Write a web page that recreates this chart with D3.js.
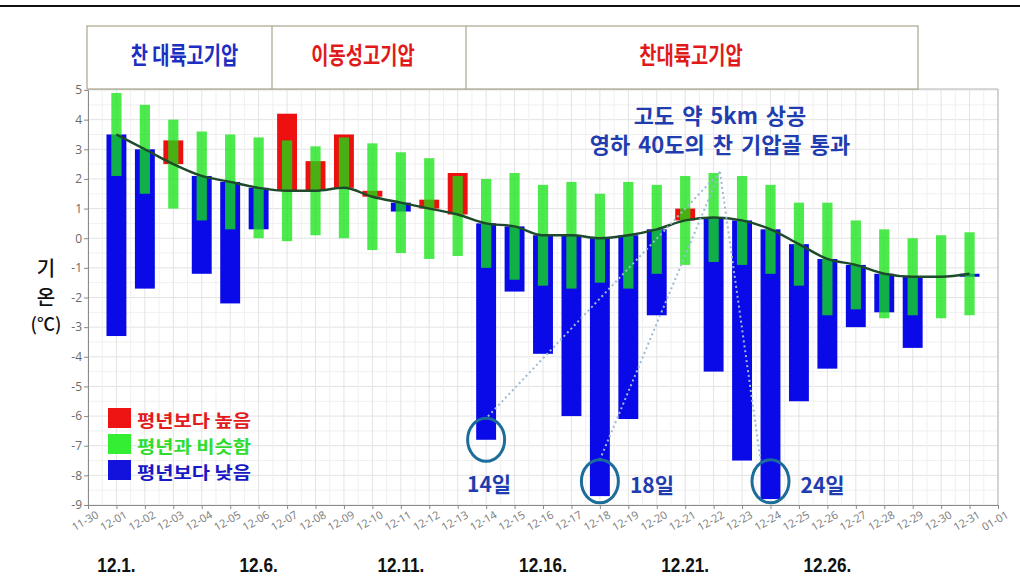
<!DOCTYPE html>
<html>
<head>
<meta charset="utf-8">
<script src="https://cdn.jsdelivr.net/npm/d3@7"></script>
<style>
  body { margin: 0; background: #fff; }
  svg { display: block; }
</style>
</head>
<body>
<svg id="chart" width="1020" height="586"></svg>
<script>
// December daily mean temperature vs. climatological normal
const dates = ["12-01","12-02","12-03","12-04","12-05","12-06","12-07","12-08","12-09","12-10",
               "12-11","12-12","12-13","12-14","12-15","12-16","12-17","12-18","12-19","12-20",
               "12-21","12-22","12-23","12-24","12-25","12-26","12-27","12-28","12-29","12-30","12-31"];
// climatological mean (smooth dark line)
const meanTemp = [3.5, 3.0, 2.5, 2.1, 1.9, 1.7, 1.6, 1.6, 1.7, 1.4,
                  1.2, 1.0, 0.8, 0.5, 0.4, 0.1, 0.1, 0.0, 0.1, 0.3,
                  0.6, 0.7, 0.6, 0.3, -0.2, -0.7, -0.9, -1.2, -1.3, -1.3, -1.2];
// observed daily mean
const obsTemp = [-3.3, -1.7, 3.3, -1.2, -2.2, 0.3, 4.2, 2.6, 3.5, 1.6,
                 0.9, 1.3, 2.2, -6.8, -1.8, -3.9, -6.0, -8.7, -6.1, -2.6,
                 1.0, -4.5, -7.5, -8.8, -5.5, -4.4, -3.0, -2.5, -3.7, -1.3, -1.3];
// normal range (upper / lower bound)
const normalHigh = [4.9, 4.5, 4.0, 3.6, 3.5, 3.4, 3.3, 3.1, 3.4, 3.2,
                    2.9, 2.7, 2.1, 2.0, 2.2, 1.8, 1.9, 1.5, 1.9, 1.8,
                    2.1, 2.2, 2.1, 1.8, 1.2, 1.2, 0.6, 0.3, 0.0, 0.1, 0.2];
const normalLow = [2.1, 1.5, 1.0, 0.6, 0.3, 0.0, -0.1, 0.1, 0.0, -0.4,
                   -0.5, -0.7, -0.6, -1.0, -1.4, -1.6, -1.7, -1.5, -1.7, -1.2,
                   -0.9, -0.8, -0.9, -1.2, -1.6, -2.6, -2.4, -2.7, -2.6, -2.7, -2.6];
const yTicks = d3.range(-9, 6);
const periodNames = ["찬 대륙고기압", "이동성고기압", "찬대륙고기압"];
const legendNames = ["평년보다 높음", "평년과 비슷함", "평년보다 낮음"];
const dateMarks = ["12-01", "12-06", "12-11", "12-16", "12-21", "12-26"];
const dateMarkLabels = ["12.1.", "12.6.", "12.11.", "12.16.", "12.21.", "12.26."];
const coldDays = ["12-14", "12-18", "12-24"];
const coldDayCircleTemp = [-6.8, -8.2, -8.2];
const coldDayLabels = ["14일", "18일", "24일"];
const noteLines = ["고도 약 5km 상공", "영하 40도의 찬 기압골 통과"];

const toDate = s => {
  const [m, d] = s.split("-").map(Number);
  return m === 12 || m === 11 ? new Date(Date.UTC(2000, m - 1, d)) : new Date(Date.UTC(2001, m - 1, d));
};

const svg = d3.select("#chart");
const W = 1020, H = 586;
const plot = { left: 88, right: 998, top: 90, bottom: 505 };

const x = d3.scaleUtc()
  .domain([toDate("11-30"), toDate("01-01")])
  .range([plot.left, plot.right]);
const y = d3.scaleLinear().domain([-9, 5]).range([plot.bottom, plot.top]);

const KR = "'Noto Sans CJK KR', 'Noto Sans', sans-serif";
const NUM = "'Open Sans', 'Noto Sans', sans-serif";

// top rule
svg.append("line").attr("x1", 0).attr("x2", W).attr("y1", 6).attr("y2", 6)
  .attr("stroke", "#111").attr("stroke-width", 2);

// plot background and grid
const g = svg.append("g");
g.append("rect").attr("x", plot.left).attr("y", plot.top - 1)
  .attr("width", plot.right - plot.left).attr("height", plot.bottom - plot.top + 1)
  .attr("fill", "#fff");

const halfSteps = d3.range(-9, 5.01, 0.5);
g.selectAll("line.hgrid").data(halfSteps).join("line")
  .attr("x1", plot.left).attr("x2", plot.right)
  .attr("y1", d => y(d)).attr("y2", d => y(d))
  .attr("stroke", d => Number.isInteger(d) ? "#e3e3e3" : "#f0f0f0");

const dayTicks = d3.utcDay.range(toDate("11-30"), d3.utcDay.offset(toDate("01-01"), 1));
const halfDays = [];
dayTicks.forEach(d => { halfDays.push(+d); halfDays.push(+d + 12 * 3600e3); });
g.selectAll("line.vgrid").data(halfDays.filter(t => t <= +toDate("01-01"))).join("line")
  .attr("x1", d => x(d)).attr("x2", d => x(d))
  .attr("y1", plot.top).attr("y2", plot.bottom)
  .attr("stroke", (d, i) => i % 2 === 0 ? "#e3e3e3" : "#f0f0f0");

// plot frame (top and right)
g.append("path")
  .attr("d", `M${plot.left},${plot.top - 1}H${plot.right}V${plot.bottom}`)
  .attr("fill", "none").attr("stroke", "#b5b5b5");

// header table of pressure systems
const header = svg.append("g");
const hx = [87, 272, 466, 918], hTop = 26, hBot = 89;
header.append("rect").attr("x", hx[0]).attr("y", hTop)
  .attr("width", hx[3] - hx[0]).attr("height", hBot - hTop)
  .attr("fill", "#fff").attr("stroke", "#a9a58c").attr("stroke-width", 1.2);
[hx[1], hx[2]].forEach(v => header.append("line")
  .attr("x1", v).attr("x2", v).attr("y1", hTop).attr("y2", hBot)
  .attr("stroke", "#a9a58c").attr("stroke-width", 1.2));
const headerColors = ["#1b2fc2", "#e01a1a", "#e01a1a"];
periodNames.forEach((t, i) => {
  const cx = (hx[i] + hx[i + 1]) / 2 + (i === 0 ? 5 : (i === 1 ? -6 : -1));
  header.append("text")
    .attr("transform", `translate(${cx},64) scale(0.78,1)`)
    .attr("text-anchor", "middle")
    .attr("font-family", KR).attr("font-weight", 700).attr("font-size", 24)
    .attr("fill", headerColors[i]).text(t);
});

// data rows
const rows = dates.map((d, i) => ({
  date: toDate(d), mean: meanTemp[i], obs: obsTemp[i],
  hi: normalHigh[i], lo: normalLow[i]
}));
const dayW = x(toDate("12-02")) - x(toDate("12-01"));
const barW = dayW * 0.70;
const rangeW = dayW * 0.36;

// observed anomaly bars: from mean to observed value
g.selectAll("rect.obs").data(rows.filter(r => r.obs !== r.mean)).join("rect")
  .attr("x", r => x(r.date) - barW / 2)
  .attr("width", barW)
  .attr("y", r => y(Math.max(r.obs, r.mean)))
  .attr("height", r => Math.abs(y(r.obs) - y(r.mean)))
  .attr("fill", r => r.obs > r.mean ? "#ee1010" : "#0a0ae8");

// normal range bars, drawn translucent over the anomaly bars
g.selectAll("rect.range").data(rows).join("rect")
  .attr("x", r => x(r.date) - rangeW / 2)
  .attr("width", rangeW)
  .attr("y", r => y(r.hi))
  .attr("height", r => y(r.lo) - y(r.hi))
  .attr("fill", "#14e414").attr("fill-opacity", 0.76);

// climatological mean curve
g.append("path").datum(rows)
  .attr("d", d3.line().x(r => x(r.date)).y(r => y(r.mean)).curve(d3.curveMonotoneX))
  .attr("fill", "none").attr("stroke", "#1d4a2a").attr("stroke-width", 2.4);

// axes
const yAxis = svg.append("g").attr("transform", `translate(${plot.left},0)`)
  .call(d3.axisLeft(y).tickValues(yTicks).tickFormat(d => String(d)).tickSize(4).tickPadding(2));
yAxis.select(".domain").attr("stroke", "#8a8a8a");
yAxis.selectAll(".tick line").attr("stroke", "#8a8a8a");
yAxis.selectAll("text").attr("font-family", NUM).attr("font-size", 12).attr("fill", "#6a6a6a");

const xAxis = svg.append("g").attr("transform", `translate(0,${plot.bottom})`)
  .call(d3.axisBottom(x).tickValues(dayTicks).tickFormat(d3.utcFormat("%m-%d")).tickSize(4));
xAxis.select(".domain").attr("stroke", "#8a8a8a");
xAxis.selectAll(".tick line").attr("stroke", "#8a8a8a");
xAxis.selectAll("text")
  .attr("y", 0).attr("dy", 0)
  .attr("text-anchor", "end")
  .attr("transform", "translate(11,12) rotate(-30)")
  .attr("font-family", NUM).attr("font-size", 11).attr("fill", "#7a7a7a");

// y-axis title
const yTitle = ["기", "온", "(℃)"];
const yTitleY = [276, 305, 331];
yTitle.forEach((t, i) => svg.append("text")
  .attr("x", 46).attr("y", yTitleY[i]).attr("text-anchor", "middle")
  .attr("font-family", KR).attr("font-size", i === 2 ? 18 : 20).attr("font-weight", 500)
  .attr("fill", "#111").text(t));

// annotation: cold trough note and circled cold days
const noteX = 720;
const notePoint = [noteX, 172];
noteLines.forEach((t, i) => svg.append("text")
  .attr("x", noteX).attr("y", 124 + i * 29).attr("text-anchor", "middle")
  .attr("word-spacing", 3)
  .attr("font-family", KR).attr("font-weight", 700).attr("font-size", 22)
  .attr("fill", "#1f3daf").text(t));

const rx = 18.5, ry = 21.5;
const marks = coldDays.map((d, i) => ({
  cx: x(toDate(d)), cy: y(coldDayCircleTemp[i]), label: coldDayLabels[i], i
}));
svg.selectAll("line.pointer").data(marks).join("line")
  .attr("x1", notePoint[0]).attr("y1", notePoint[1])
  .attr("x2", m => m.cx - (m.i === 2 ? 10 : 0)).attr("y2", m => m.cy - ry)
  .attr("stroke", "#9dbbd3").attr("stroke-width", 2).attr("stroke-dasharray", "2,3");
svg.selectAll("ellipse.mark").data(marks).join("ellipse")
  .attr("cx", m => m.cx).attr("cy", m => m.cy).attr("rx", rx).attr("ry", ry)
  .attr("fill", "none").attr("stroke", "#1d6d9b").attr("stroke-width", 3);
svg.selectAll("text.mark").data(marks).join("text")
  .attr("x", m => m.i === 0 ? m.cx + 3 : m.cx + 30)
  .attr("y", m => m.i === 0 ? 492 : 493)
  .attr("text-anchor", m => m.i === 0 ? "middle" : "start")
  .attr("font-family", KR).attr("font-weight", 700).attr("font-size", 21)
  .attr("fill", "#1f3daf").text(m => m.label);

// legend
const legendFill = ["#ee1414", "#34ee34", "#1212dc"];
const legendText = ["#e21b1b", "#2fdc2f", "#1818c4"];
legendNames.forEach((t, i) => {
  const ly = 408 + i * 26;
  svg.append("rect").attr("x", 108).attr("y", ly).attr("width", 23).attr("height", 20)
    .attr("fill", legendFill[i]);
  svg.append("text").attr("x", 137).attr("y", ly + 19)
    .attr("textLength", 114).attr("lengthAdjust", "spacingAndGlyphs")
    .attr("font-family", KR).attr("font-weight", 700).attr("font-size", 17.5)
    .attr("fill", legendText[i]).text(t);
});

// date markers under the axis
dateMarks.forEach((d, i) => svg.append("text")
  .attr("transform", `translate(${x(toDate(d))},572) scale(0.86,1)`)
  .attr("text-anchor", "middle")
  .attr("font-family", "'Liberation Sans', Arial, sans-serif").attr("font-weight", 700).attr("font-size", 20)
  .attr("fill", "#111").text(dateMarkLabels[i]));
</script>
</body>
</html>
